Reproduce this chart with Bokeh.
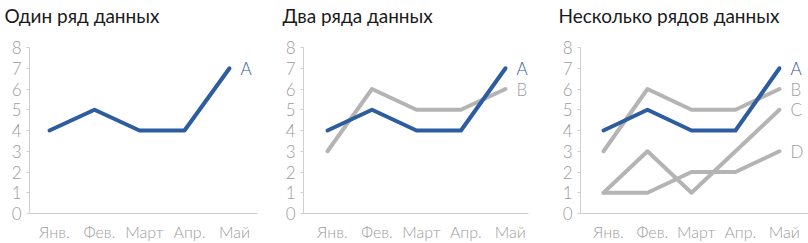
from bokeh.plotting import figure
from bokeh.layouts import row, column
from bokeh.models import Range1d, LinearAxis, FixedTicker, Label
from bokeh.core.properties import value
from bokeh.embed import file_html
from bokeh.resources import INLINE

months = ["Янв.", "Фев.", "Март", "Апр.", "Май"]
series_a = [4, 5, 4, 4, 7]
series_b = [3, 6, 5, 5, 6]
series_c = [1, 3, 1, 3, 5]
series_d = [1, 1, 2, 2, 3]
titles = ["Один ряд данных", "Два ряда данных", "Несколько рядов данных"]
y_ticks = list(range(0, 9))

BLUE = "#2d5c9f"
GRAY = "#b4b4b4"
LABEL_GRAY = "#9c9c9c"
AXIS_GRAY = "#cfcfcf"
FONT = "Lato Light"
TITLE_FONT = "Lato"

xs = list(range(len(months)))


def make_panel(series, width, left, right, xstart, xend):
    p = figure(width=width, height=213, output_backend="svg", toolbar_location=None,
               x_range=Range1d(xstart, xend), y_range=Range1d(0, 8),
               min_border_left=left, min_border_right=right, min_border_top=17,
               min_border_bottom=29, x_axis_location=None)
    p.outline_line_color = None
    p.grid.visible = False
    p.background_fill_color = "white"
    p.border_fill_color = "white"

    d = 0.11
    p.extra_x_ranges = {"lab": Range1d(xstart - d, xend - d)}
    xa = LinearAxis(x_range_name="lab", ticker=FixedTicker(ticks=xs),
                    major_label_overrides={i: m for i, m in enumerate(months)})
    xa.major_tick_line_color = None
    xa.minor_tick_line_color = None
    xa.axis_line_color = AXIS_GRAY
    xa.major_label_text_font = FONT
    xa.major_label_text_font_size = "16px"
    xa.major_label_text_color = LABEL_GRAY
    xa.major_label_standoff = 2
    p.add_layout(xa, "below")

    ya = p.yaxis[0]
    ya.ticker = FixedTicker(ticks=y_ticks)
    ya.major_tick_out = 3
    ya.major_tick_in = 0
    ya.minor_tick_line_color = None
    ya.major_tick_line_color = AXIS_GRAY
    ya.axis_line_color = AXIS_GRAY
    ya.major_label_text_font = FONT
    ya.major_label_text_font_size = "17px"
    ya.major_label_text_color = LABEL_GRAY
    ya.major_label_standoff = 5

    for name, vals, color in series:
        p.line(xs, vals, line_color=color, line_width=4, line_join="round", line_cap="round")
    for name, vals, color in series:
        tc = BLUE if color == BLUE else LABEL_GRAY
        p.text([xs[-1]], [vals[-1]], text=[name], x_offset=11, text_baseline="middle",
               text_align="left", text_color=tc, text_font=value(FONT), text_font_size="17px")
    return p


# title strip above the three panels
head = figure(width=808, height=30, output_backend="svg", toolbar_location=None,
              x_range=Range1d(0, 808), y_range=Range1d(30, 0), min_border=0,
              x_axis_location=None, y_axis_location=None)
head.outline_line_color = None
head.grid.visible = False
for tx, title in zip([4, 282, 558], titles):
    head.add_layout(Label(x=tx, y=15, text=title, text_font=TITLE_FONT,
                          text_font_size="19px", text_color="#1a1a1a",
                          text_baseline="alphabetic", text_align="left"))

p1 = make_panel([("A", series_a, BLUE)], 270, 29, 13, -0.444, 4.622)
p2 = make_panel([("B", series_b, GRAY), ("A", series_a, BLUE)], 270, 33, 12, -0.539, 4.517)
p3 = make_panel([("D", series_d, GRAY), ("C", series_c, GRAY), ("B", series_b, GRAY),
                 ("A", series_a, BLUE)], 268, 40, 0, -0.523, 4.66)

layout = column(head, row(p1, p2, p3))
open("out.html", "w").write(file_html(layout, INLINE))
